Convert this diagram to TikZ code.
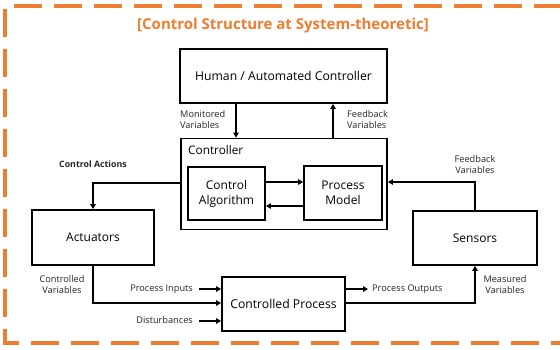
\documentclass[tikz,border=0pt]{standalone}
\usepackage{fontspec}
\setmainfont{Open Sans}
\usetikzlibrary{arrows.meta}
\definecolor{frameorange}{RGB}{237,125,49}
\tikzset{
  blk/.style={draw=black, line width=1.8pt, inner sep=0pt},
  arr/.style={line width=1.6pt, -{Triangle[length=5pt,width=5.5pt]}},
  lbl/.style={font=\fontsize{9.2}{11}\selectfont, inner sep=0pt, text=black!85},
  boxtxt/.style={font=\fontsize{12}{15}\selectfont, align=center},
}
\begin{document}
\begin{tikzpicture}[x=1pt, y=-1pt]
\useasboundingbox (0,0) rectangle (560,349);
\fill[white] (0,0) rectangle (560,349);

% dashed frame, open on the right
\draw[frameorange, line width=3.6pt, dash pattern=on 28pt off 12pt]
  (562,6) -- (5,6) -- (5,343) -- (562,343);

\node[font=\fontsize{15}{18}\selectfont\bfseries, text=frameorange] (title) at (283,26)
  {[Control Structure at System-theoretic]};

% blocks
\node[blk, minimum width=207pt, minimum height=54pt, font=\fontsize{12.2}{15}\selectfont] (human) at (283.5,76) {Human / Automated Controller};
\node[blk, minimum width=206pt, minimum height=91pt] (ctrl) at (284,184) {};
\node[anchor=west, inner sep=0pt, font=\fontsize{11.8}{15}\selectfont] (ctrllbl) at (188,150) {Controller};
\node[blk, boxtxt, minimum width=77pt, minimum height=53pt] (algo) at (226.5,193.5) {Control\\Algorithm};
\node[blk, boxtxt, minimum width=78pt, minimum height=54pt] (model) at (343,193) {Process\\Model};
\node[blk, boxtxt, minimum width=122pt, minimum height=55pt] (act) at (93,237.5) {Actuators};
\node[blk, boxtxt, minimum width=124pt, minimum height=54pt] (sens) at (475,238) {Sensors};
\node[blk, boxtxt, font=\fontsize{12.2}{15}\selectfont, minimum width=123pt, minimum height=54pt] (proc) at (283.5,304) {Controlled Process};

% routing columns and rows
\coordinate (cmon) at (236,0);
\coordinate (cfb) at (333,0);
\coordinate (rup) at (0,182);
\coordinate (rdown) at (0,206);
\coordinate (rca) at (0,183);
\coordinate (rout) at (0,303);
\coordinate (in1) at (199,289);
\coordinate (in2) at (199,321);
\coordinate (out1) at (368,289);

% controller <-> human
\draw[arr] (cmon |- human.south) -- (cmon |- ctrl.north);
\draw[arr] (cfb |- ctrl.north) -- (cfb |- human.south);

% inside the controller
\draw[arr] (algo.east |- rup) -- (model.west |- rup);
\draw[arr] (model.west |- rdown) -- (algo.east |- rdown);

% control actions and feedback
\draw[arr] (ctrl.west |- rca) -| (act.north);
\draw[arr] (sens.north) |- (ctrl.east |- rup);

% physical loop
\draw[arr] (act.south) |- (proc.west |- rout);
\draw[arr] (proc.east |- rout) -| (sens.south);
\draw[arr] (in1) -- (proc.west |- in1);
\draw[arr] (in2) -- (proc.west |- in2);
\draw[arr] (proc.east |- out1) -- (out1);

% labels
\node[lbl, anchor=west, align=left] (lmon) at (180,119.5) {Monitored\\Variables};
\node[lbl, anchor=west, align=left] (lfb) at (347,119.5) {Feedback\\Variables};
\node[lbl, font=\fontsize{8.8}{11}\selectfont\bfseries] (lca) at (93,164) {Control Actions};
\node[lbl, align=center] (lfb2) at (475,164.5) {Feedback\\Variables};
\node[lbl, align=center] (lcv) at (62,284.5) {Controlled\\Variables};
\node[lbl, align=center] (lmv) at (505,284.5) {Measured\\Variables};
\node[lbl, anchor=east] (lpi) at (193,289) {Process Inputs};
\node[lbl, anchor=east] (ldi) at (193,320) {Disturbances};
\node[lbl, anchor=west] (lpo) at (372,289) {Process Outputs};
\end{tikzpicture}
\end{document}
